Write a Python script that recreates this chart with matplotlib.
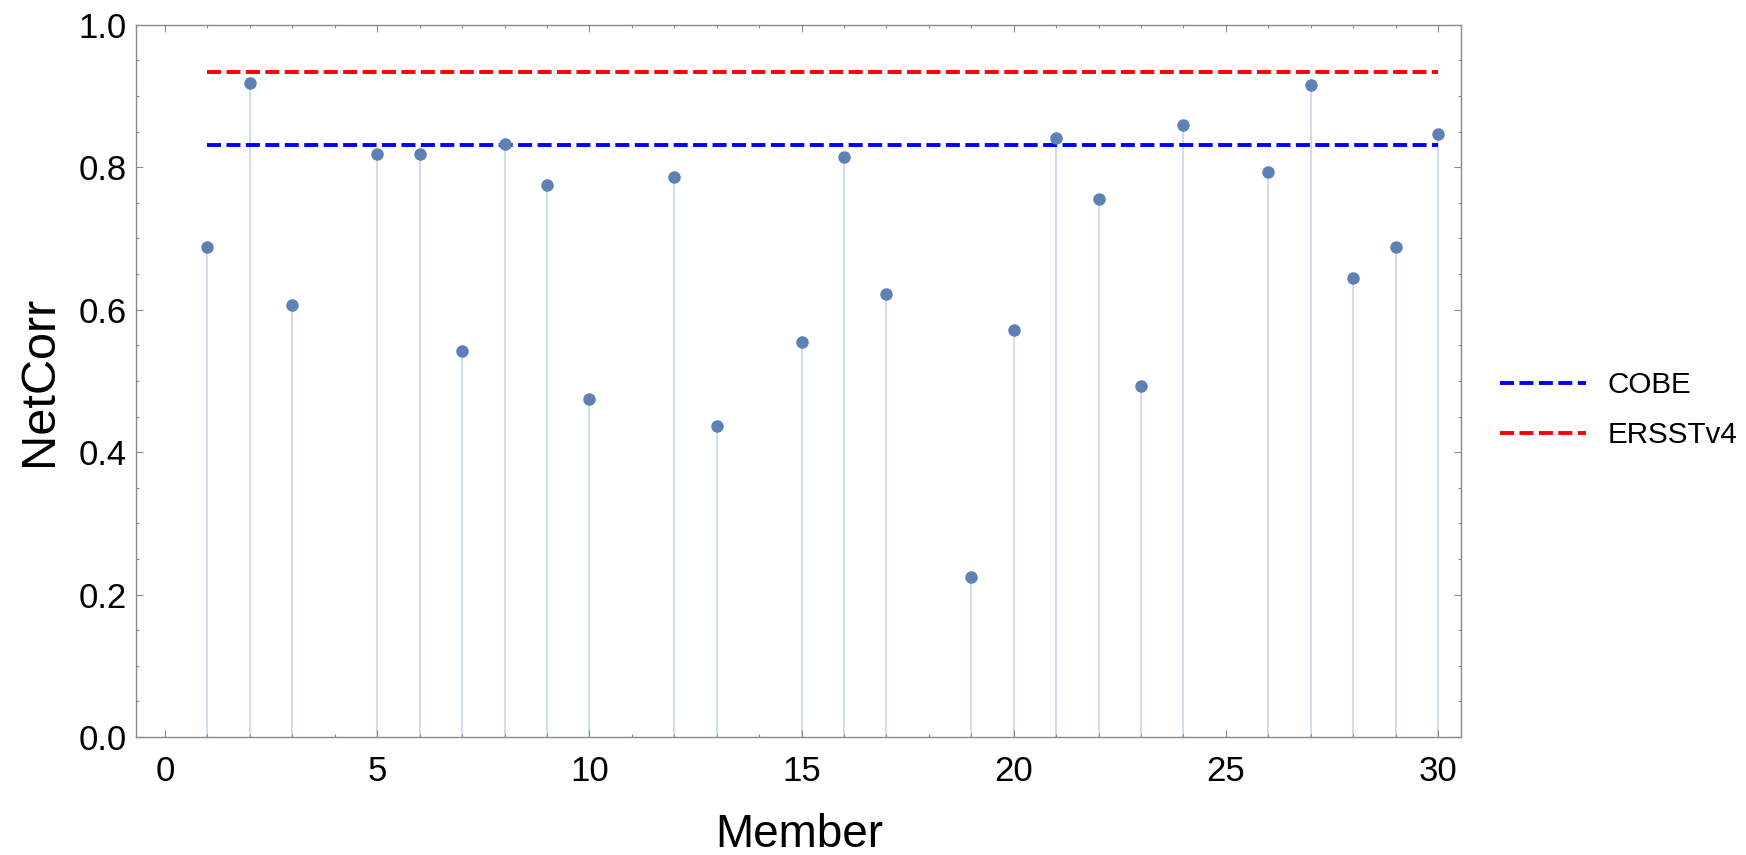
import matplotlib
matplotlib.use("Agg")
import matplotlib.pyplot as plt
from matplotlib.ticker import MultipleLocator

plt.rcParams['font.family'] = ['Liberation Sans', 'DejaVu Sans']

# ensemble members (4, 11, 14, 18, 25 have no value)
members = [1, 2, 3, 5, 6, 7, 8, 9, 10, 12, 13, 15, 16, 17, 19, 20,
           21, 22, 23, 24, 26, 27, 28, 29, 30]
net_corr = [0.688, 0.918, 0.607, 0.819, 0.819, 0.542, 0.832, 0.775, 0.475,
            0.786, 0.437, 0.554, 0.814, 0.622, 0.224, 0.571, 0.841, 0.755,
            0.493, 0.859, 0.794, 0.916, 0.645, 0.688, 0.846]

# observed reference values
cobe = 0.831
ersst = 0.934

fig = plt.figure(figsize=(17.46, 8.55), dpi=100)
ax = fig.add_axes([0.078, 0.138, 0.759, 0.833])

ax.vlines(members, 0, net_corr, color='#cdd8ea', lw=1.3, zorder=1)
ax.plot(members, net_corr, 'o', ms=9, color='#5e81b5', mec='none', zorder=3)

xr = [members[0], members[-1]]
ax.plot(xr, [cobe, cobe], color='#0000ff', lw=2.8, dashes=(3.6, 1.4),
        solid_capstyle='butt', label='COBE', zorder=2)
ax.plot(xr, [ersst, ersst], color='#ff0000', lw=2.8, dashes=(3.6, 1.4),
        solid_capstyle='butt', label='ERSSTv4', zorder=2)

ax.set_xlim(-0.68, 30.55)
ax.set_ylim(0, 1.0)
ax.xaxis.set_major_locator(MultipleLocator(5))
ax.xaxis.set_minor_locator(MultipleLocator(1))
ax.yaxis.set_major_locator(MultipleLocator(0.2))
ax.yaxis.set_minor_locator(MultipleLocator(0.05))
ax.yaxis.set_major_formatter(plt.FuncFormatter(lambda v, p: f"{v:.1f}"))

for s in ax.spines.values():
    s.set_color('#8a8a8a')
    s.set_linewidth(1.0)
ax.tick_params(which='both', direction='in', top=True, right=True,
               color='#8a8a8a', width=0.8)
ax.tick_params(which='major', length=5, labelsize=25)
ax.tick_params(which='minor', length=2.5)
ax.tick_params(axis='x', pad=13)
ax.tick_params(axis='y', pad=7)

ax.set_xlabel('Member', fontsize=33, labelpad=18)
ax.set_ylabel('NetCorr', fontsize=35, labelpad=12)

fig.legend(loc='center left', bbox_to_anchor=(0.844, 0.52), frameon=False,
           fontsize=21.3, handlelength=2.9, handletextpad=0.72, labelspacing=0.75)

fig.savefig('out.png', dpi=100)
